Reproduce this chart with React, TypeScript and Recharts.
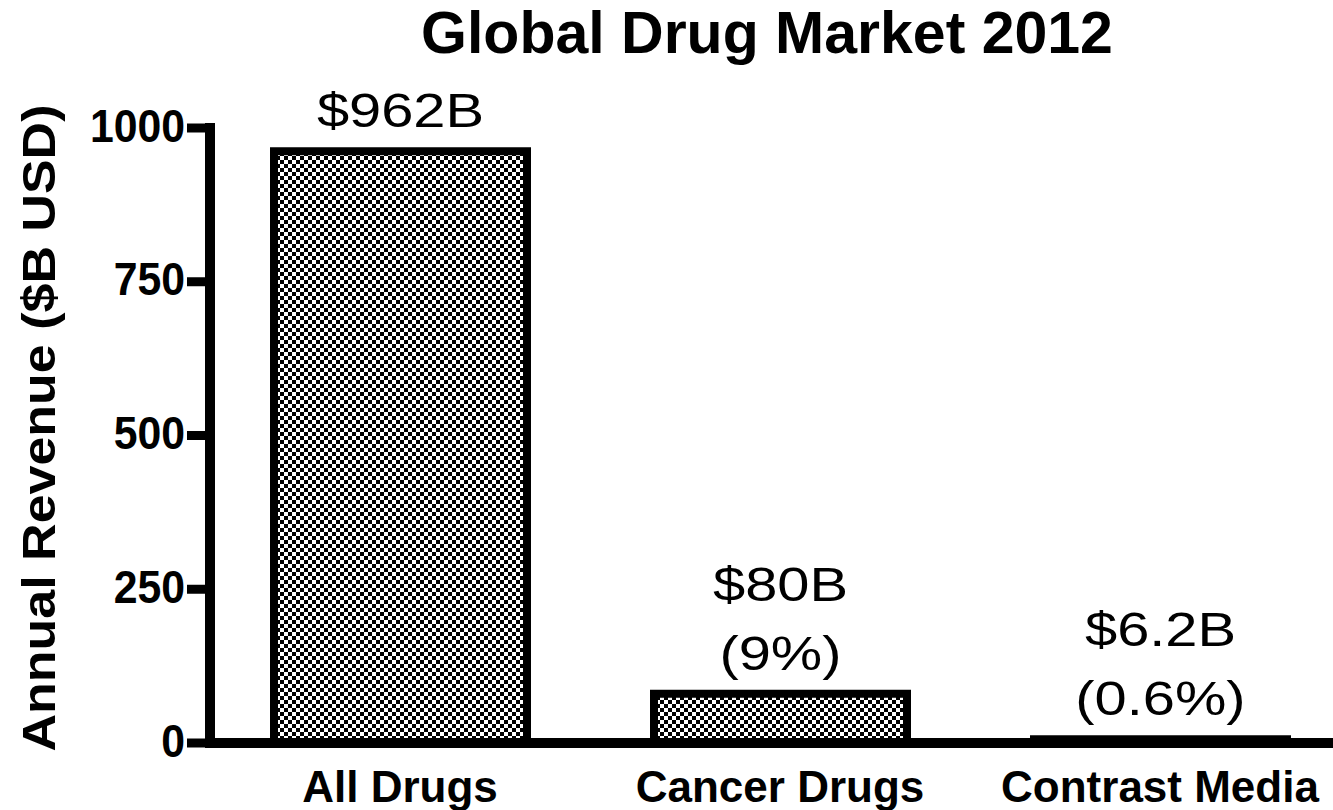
import { BarChart, Bar, XAxis, YAxis, LabelList } from "recharts";

const categories = ["All Drugs", "Cancer Drugs", "Contrast Media"];
const revenue = [962, 80, 6.2];
const valueLabels = ["$962B", "$80B", "$6.2B"];
const shareLabels = ["", "(9%)", "(0.6%)"];
const yTicks = [0, 250, 500, 750, 1000];

const FONT = "'Liberation Sans', Arial, sans-serif";

const data = categories.map((name, i) => ({ name, revenue: revenue[i] }));

function YTick({ x, y, payload }: any) {
  return (
    <text
      transform={`translate(${x},${y - 3}) scale(0.91,1)`}
      textAnchor="end"
      dy="0.355em"
      fontFamily={FONT}
      fontWeight="bold"
      fontSize={47}
      fill="#000"
    >
      {payload.value}
    </text>
  );
}

function XTick({ x, y, payload }: any) {
  return (
    <text x={x} y={y + 59} textAnchor="middle" fontFamily={FONT} fontWeight="bold" fontSize={44} fill="#000">
      {payload.value}
    </text>
  );
}

function BarValue({ x, y, width, value }: any) {
  const i = categories.indexOf(value);
  const cx = x + width / 2;
  const base = y - 24;
  const lines = shareLabels[i] ? [valueLabels[i], shareLabels[i]] : [valueLabels[i]];
  return (
    <g>
      {lines.map((t, k) => (
        <text
          key={k}
          transform={`translate(${cx},${base - (lines.length - 1 - k) * 69}) scale(1.18,1)`}
          textAnchor="middle"
          fontFamily={FONT}
          fontSize={49}
          fill="#000"
        >
          {t}
        </text>
      ))}
    </g>
  );
}

export default function App() {
  return (
    <div style={{ position: "absolute", left: 0, top: 0, width: 1333, height: 810, overflow: "hidden", background: "#fff" }}>
      <BarChart width={1350} height={810} data={data} margin={{ top: 128, right: 0, left: 0, bottom: 0 }}>
        <defs>
          <pattern id="checker" patternUnits="userSpaceOnUse" width={8} height={8}>
            <rect x={0} y={0} width={8} height={8} fill="#fff" />
            <rect x={0} y={0} width={4} height={4} fill="#000" />
            <rect x={4} y={4} width={4} height={4} fill="#000" />
          </pattern>
        </defs>
        <XAxis
          dataKey="name"
          height={67}
          tickSize={0}
          tickMargin={0}
          tickLine={false}
          axisLine={{ stroke: "#000", strokeWidth: 10 }}
          tick={<XTick />}
          interval={0}
        />
        <YAxis
          width={210}
          domain={[0, 1000]}
          ticks={yTicks}
          tickSize={23}
          tickMargin={2}
          tickLine={{ stroke: "#000", strokeWidth: 9 }}
          axisLine={{ stroke: "#000", strokeWidth: 10, strokeLinecap: "square" }}
          tick={<YTick />}
          allowDataOverflow
        />
        <Bar dataKey="revenue" barSize={253} fill="url(#checker)" stroke="#000" strokeWidth={8} isAnimationActive={false}>
          <LabelList dataKey="name" content={<BarValue />} />
        </Bar>
      </BarChart>
      <svg width={1333} height={810} style={{ position: "absolute", left: 0, top: 0, pointerEvents: "none" }}>
        <text x={767} y={53} textAnchor="middle" fontFamily={FONT} fontWeight="bold" fontSize={59} fill="#000">
          Global Drug Market 2012
        </text>
        <text
          transform="translate(55,428) rotate(-90) scale(1.13,1)"
          textAnchor="middle"
          fontFamily={FONT}
          fontWeight="bold"
          fontSize={46}
          fill="#000"
        >
          Annual Revenue ($B USD)
        </text>
      </svg>
    </div>
  );
}
